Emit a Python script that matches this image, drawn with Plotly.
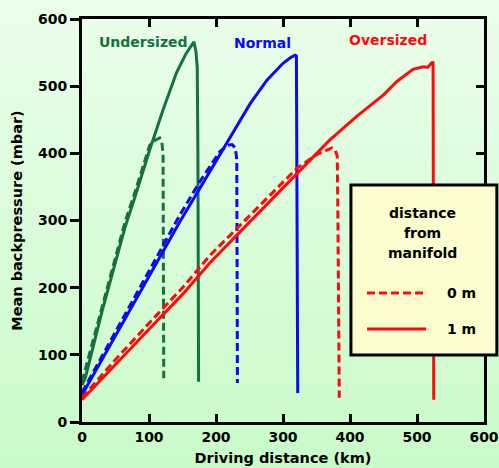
import numpy as np
import plotly.graph_objects as go

# ---- data ----
under_1m_x = [0, 5, 30, 64, 80, 101, 121, 141, 155, 161, 167, 170, 172, 173, 174]
under_1m_y = [55, 66, 165, 289, 338, 405, 465, 520, 548, 558, 566, 552, 528, 400, 60]
under_0m_x = [0, 30, 64, 80, 101, 110, 116, 119, 121, 122]
under_0m_y = [60, 170, 297, 345, 412, 420, 423, 418, 400, 65]

normal_1m_x = [0, 50, 100, 146, 176, 206, 226, 251, 276, 300, 312, 318, 320, 321, 322]
normal_1m_y = [40, 128, 216, 298, 348, 398, 433, 474, 509, 534, 543, 546, 545, 300, 43]
normal_0m_x = [0, 50, 100, 146, 176, 206, 218, 224, 229, 231, 232]
normal_0m_y = [44, 135, 224, 308, 358, 403, 412, 413, 408, 390, 58]

over_1m_x = [0, 50, 100, 150, 191, 226, 275, 321, 370, 410, 450, 470, 494, 509, 516, 522, 524, 525]
over_1m_y = [33, 86, 138, 190, 237, 273, 323, 371, 420, 455, 487, 507, 525, 529, 528, 535, 535, 33]
over_0m_x = [0, 50, 100, 150, 191, 226, 275, 321, 350, 365, 373, 378, 381, 382, 384]
over_0m_y = [36, 93, 147, 200, 248, 283, 332, 378, 398, 405, 408, 405, 395, 300, 36]

x_ticks = [0, 100, 200, 300, 400, 500, 600]
y_ticks = [0, 100, 200, 300, 400, 500, 600]

GREEN = "#17703f"
BLUE = "#0a0af5"
RED = "#ff0a0a"
FONT = "DejaVu Sans"
DASH = "8px,4px"

fig = go.Figure()

def add(x, y, color, dash, name=None, legend=False):
    fig.add_trace(go.Scatter(x=x, y=y, mode="lines",
                             line=dict(color=color, width=3, dash=dash),
                             name=name, showlegend=legend, hoverinfo="skip"))

add(under_0m_x, under_0m_y, GREEN, DASH)
add(under_1m_x, under_1m_y, GREEN, "solid")
add(normal_0m_x, normal_0m_y, BLUE, DASH)
add(normal_1m_x, normal_1m_y, BLUE, "solid")
add(over_0m_x, over_0m_y, RED, DASH, "0 m")
add(over_1m_x, over_1m_y, RED, "solid", "1 m")
# dummy trace to activate the right-hand axis
fig.add_trace(go.Scatter(x=[None], y=[None], yaxis="y2", showlegend=False, hoverinfo="skip"))

# background gradient
shapes = []
n = 40
y_lo, y_hi = -0.12, 1.06
top = np.array([0xEC, 0xFE, 0xEC])
bot = np.array([0xC9, 0xFB, 0xC9])
for i in range(n):
    t = (i + 0.5) / n
    c = bot + (top - bot) * t
    shapes.append(dict(type="rect", xref="paper", yref="paper",
                       x0=-0.3, x1=1.1,
                       y0=y_lo + (y_hi - y_lo) * i / n,
                       y1=y_lo + (y_hi - y_lo) * (i + 1) / n + 0.002,
                       fillcolor="rgb(%d,%d,%d)" % tuple(c.astype(int)),
                       line=dict(width=0), layer="below"))

# legend box (manual)
shapes.append(dict(type="rect", xref="paper", yref="paper",
                   x0=0.669, x1=1.032, y0=0.166, y1=0.588,
                   fillcolor="#fdfdcf", line=dict(color="black", width=3),
                   layer="above"))
shapes.append(dict(type="line", xref="paper", yref="paper",
                   x0=0.709, x1=0.856, y0=0.320, y1=0.320,
                   line=dict(color=RED, width=3, dash=DASH), layer="above"))
shapes.append(dict(type="line", xref="paper", yref="paper",
                   x0=0.709, x1=0.856, y0=0.231, y1=0.231,
                   line=dict(color=RED, width=3), layer="above"))

lf = dict(family=FONT, size=14, color="black", weight="bold")
def pa(x, y, text):
    return dict(xref="paper", yref="paper", x=x, y=y, text=text, showarrow=False,
                xanchor="center", yanchor="middle", font=lf)

annotations = [
    pa(0.848, 0.519, "distance"),
    pa(0.848, 0.469, "from"),
    pa(0.848, 0.419, "manifold"),
    pa(0.945, 0.320, "0 m"),
    pa(0.945, 0.231, "1 m"),
    dict(x=92, y=566, text="Undersized", showarrow=False, xanchor="center",
         font=dict(family=FONT, size=14, color=GREEN, weight="bold")),
    dict(x=269, y=564, text="Normal", showarrow=False, xanchor="center",
         font=dict(family=FONT, size=14, color=BLUE, weight="bold")),
    dict(x=456, y=568, text="Oversized", showarrow=False, xanchor="center",
         font=dict(family=FONT, size=14, color=RED, weight="bold")),
]

tickfont = dict(family=FONT, size=14, color="black", weight="bold")
titlefont = dict(family=FONT, size=14.5, color="black", weight="bold")

fig.update_layout(
    width=499, height=468,
    margin=dict(l=82, r=15, t=19, b=46, autoexpand=False),
    paper_bgcolor="#d8fcd8",
    plot_bgcolor="rgba(0,0,0,0)",
    showlegend=False,
    shapes=shapes,
    annotations=annotations,
    xaxis=dict(range=[0, 600], tickvals=x_ticks, ticktext=[str(v) for v in x_ticks],
               ticks="inside", ticklen=8, tickwidth=2.5, tickcolor="black",
               showline=True, linecolor="black", linewidth=3, mirror="ticks",
               showgrid=False, zeroline=False, tickfont=tickfont, automargin=False,
               title=dict(text="Driving distance (km)", font=titlefont, standoff=10)),
    yaxis=dict(range=[0, 600], tickvals=y_ticks, ticktext=[str(v) for v in y_ticks],
               ticks="outside", ticklen=9, tickwidth=2.5, tickcolor="black",
               showline=True, linecolor="black", linewidth=3, mirror=True,
               showgrid=False, zeroline=False, tickfont=tickfont, automargin=False,
               title=dict(text="Mean backpressure (mbar)", font=titlefont, standoff=12)),
    yaxis2=dict(range=[0, 600], tickvals=y_ticks, overlaying="y", side="right",
                ticks="inside", ticklen=8, tickwidth=2.5, tickcolor="black",
                showticklabels=False, showline=False, showgrid=False, zeroline=False,
                automargin=False),
)

fig.write_html("out.html", config={"displayModeBar": False},
               post_script="document.body.style.margin='0';")
